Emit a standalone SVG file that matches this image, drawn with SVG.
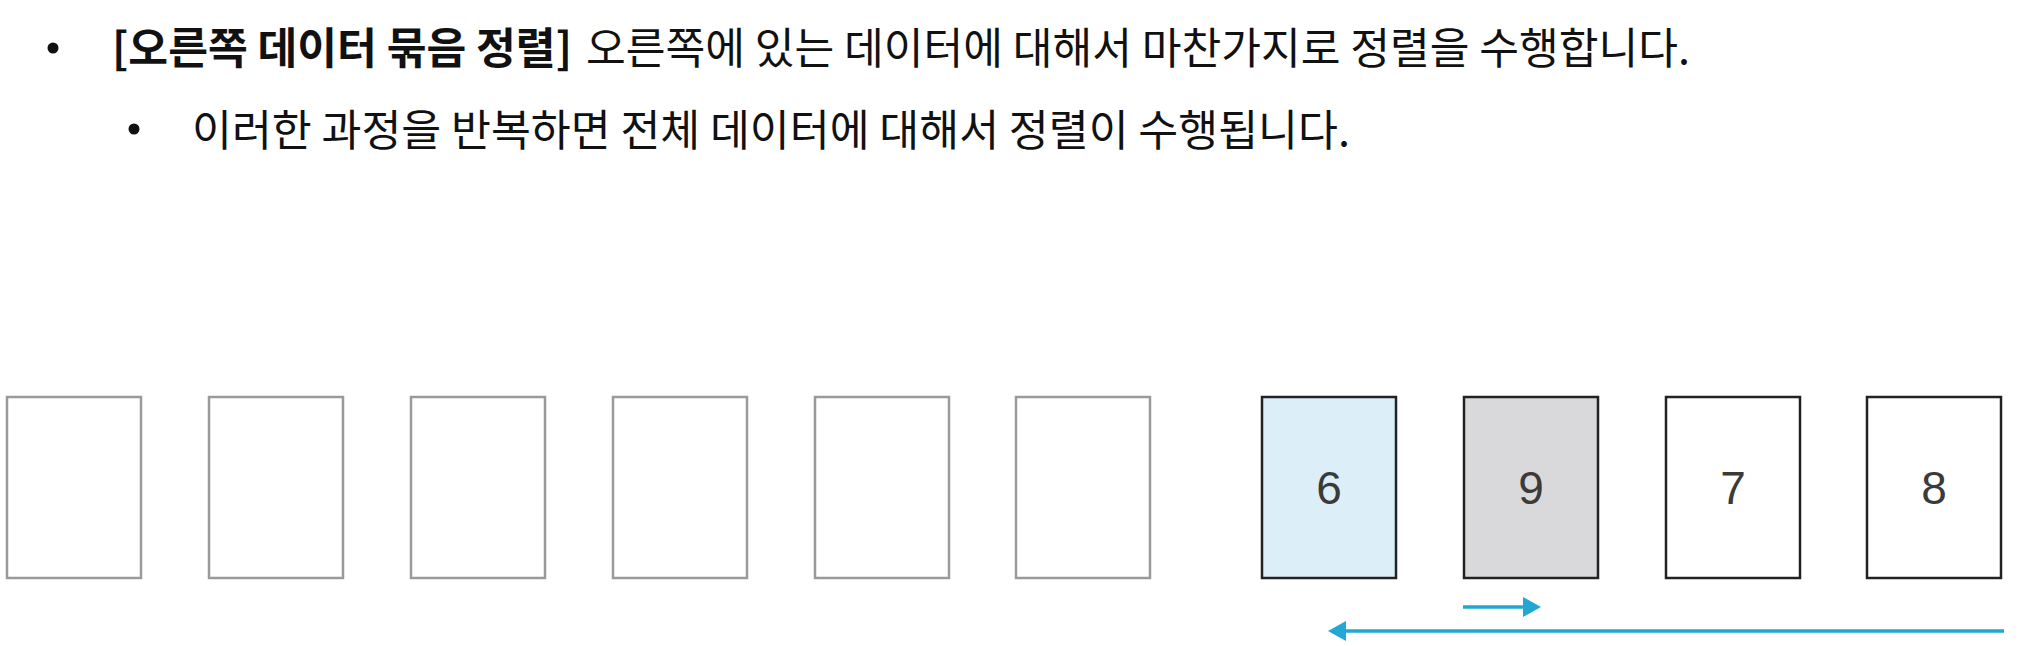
<svg xmlns="http://www.w3.org/2000/svg" width="2018" height="646" viewBox="0 0 2018 646">
  <style>
    .txt { font-family: "Noto Sans CJK KR", "Noto Sans", sans-serif; font-size: 43px; fill: #111; }
    .bold { font-weight: bold; }
    .empty { fill: #ffffff; stroke: #9a9a9a; stroke-width: 2.5; }
    .card { stroke: #222; stroke-width: 2.5; }
    .num { font-family: "Liberation Sans", Arial, sans-serif; font-size: 46px; fill: #3a3a3a; text-anchor: middle; }
    .arrow { stroke: #22a7d4; stroke-width: 3.5; fill: none; }
  </style>
  <defs>
    <marker id="head" markerUnits="userSpaceOnUse" markerWidth="19" markerHeight="20" viewBox="0 0 18 20" refX="2" refY="10" orient="auto">
      <path d="M0,0 L18,10 L0,20 z" fill="#22a7d4"/>
    </marker>
  </defs>
  <rect width="2018" height="646" fill="#ffffff"/>

  <g id="text">
    <circle cx="53" cy="48" r="5.5" fill="#111"/>
    <text class="txt bold" x="112" y="64" textLength="460" lengthAdjust="spacingAndGlyphs">[오른쪽 데이터 묶음 정렬]</text>
    <text class="txt" x="586" y="64" textLength="1104" lengthAdjust="spacingAndGlyphs">오른쪽에 있는 데이터에 대해서 마찬가지로 정렬을 수행합니다.</text>
    <circle cx="134" cy="129" r="5.5" fill="#111"/>
    <text class="txt" x="192" y="146" textLength="1158" lengthAdjust="spacingAndGlyphs">이러한 과정을 반복하면 전체 데이터에 대해서 정렬이 수행됩니다.</text>
  </g>

  <g id="slot1"><rect class="empty" x="7" y="397" width="134" height="181"/></g>
  <g id="slot2"><rect class="empty" x="209" y="397" width="134" height="181"/></g>
  <g id="slot3"><rect class="empty" x="411" y="397" width="134" height="181"/></g>
  <g id="slot4"><rect class="empty" x="613" y="397" width="134" height="181"/></g>
  <g id="slot5"><rect class="empty" x="815" y="397" width="134" height="181"/></g>
  <g id="slot6"><rect class="empty" x="1016" y="397" width="134" height="181"/></g>

  <g id="card6"><rect class="card" x="1262" y="397" width="134" height="181" fill="#dceef8"/><text class="num" x="1329" y="504">6</text></g>
  <g id="card9"><rect class="card" x="1464" y="397" width="134" height="181" fill="#d9d9db"/><text class="num" x="1531" y="504">9</text></g>
  <g id="card7"><rect class="card" x="1666" y="397" width="134" height="181" fill="#ffffff"/><text class="num" x="1733" y="504">7</text></g>
  <g id="card8"><rect class="card" x="1867" y="397" width="134" height="181" fill="#ffffff"/><text class="num" x="1934" y="504">8</text></g>

  <g id="connectors">
    <line class="arrow" x1="1463" y1="607" x2="1525" y2="607" marker-end="url(#head)"/>
    <line class="arrow" x1="2004" y1="631" x2="1344" y2="631" marker-end="url(#head)"/>
  </g>
</svg>
